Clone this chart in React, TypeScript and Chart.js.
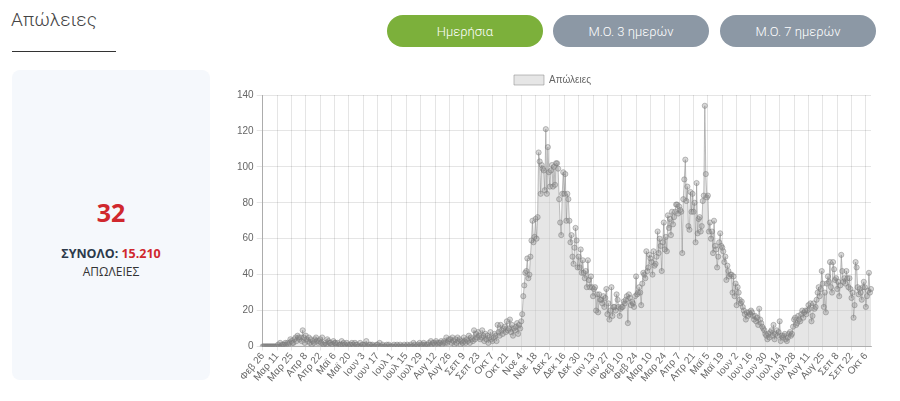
import React, { useEffect, useRef } from "react";
import { Chart, registerables } from "chart.js";

Chart.register(...registerables);

// Daily deaths, starting 26 Feb 2020
const startDate = { year: 2020, month: 1, day: 26 };
const monthNames = ["Ιαν", "Φεβ", "Μαρ", "Απρ", "Μαϊ", "Ιουν", "Ιουλ", "Αυγ", "Σεπ", "Οκτ", "Νοε", "Δεκ"];
const labelEvery = 14;

const firstWave2020 = [
  0, 0, 0, 0, 0, 0, 0, 0, 0, 0, 0, 0, 0, 0, 0,
  1, 0, 2, 0, 1, 1, 1, 2, 1, 2, 1, 2, 4, 3,
  2, 2, 4, 5, 3, 6, 5, 4, 5, 3, 9, 5, 2, 6,
  4, 3, 5, 2, 4, 1, 3, 2, 4, 5, 3, 2, 3, 4,
  2, 5, 1, 1, 2, 1, 4, 3, 2, 2, 1, 1, 3, 2,
  2, 1, 2, 0, 1, 1, 3, 1, 2, 1, 0, 2, 1, 0,
  1, 1, 2, 1, 0, 2, 1, 1, 0, 0, 2, 0, 1, 1,
  0, 1, 3, 0, 0, 1, 1, 0, 1, 0, 0, 0, 1, 1,
  0, 2, 0, 0, 1, 0, 0, 0, 1, 0, 1, 0, 0, 0,
  0, 1, 0, 0, 1, 0, 0, 1, 0, 0, 0, 1, 0, 0,
  1, 0, 0, 1, 0, 0, 2, 1, 0, 0, 1, 0, 2, 1,
  0, 1, 2, 1, 0, 1, 1, 2, 0, 3, 1, 2, 2, 1,
  3, 2, 1, 2, 2, 3, 1, 2, 3, 2, 5, 2, 3, 4,
  4, 2, 5, 3, 1, 4, 2, 5, 3, 4, 1, 3, 2, 5,
  3, 2, 4, 3, 6, 2, 5, 4, 3, 9, 4, 7, 5, 8,
  6, 4, 5, 9, 6, 3, 7, 4, 6, 2, 5, 8, 4, 3,
];

const secondWave = [
  5, 7, 6, 3, 12, 8, 6, 12, 9, 7, 10, 11, 8, 14,
  9, 10, 15, 8, 12, 6, 10, 9, 11, 13, 7, 12, 10,
  14, 18, 28, 34, 41, 42, 49, 38, 40, 50,
  59, 70, 58, 61, 71, 60, 72, 108, 103, 85,
  101, 99, 98, 87, 121, 85, 111, 97, 89, 98,
  101, 89, 100, 90, 102, 102, 99, 82, 69, 62,
  85, 97, 85, 96, 70, 85, 82, 70, 58, 62,
  50, 46, 55, 66, 59, 44, 50, 44, 54, 41,
  48, 41, 38, 42, 33, 48, 37, 33,
  39, 33, 28, 32, 33, 20, 29, 19, 29, 26,
  26, 24, 28, 22, 27, 32, 18, 24, 15, 20,
  33, 17, 22, 22, 20, 29, 26, 22, 17, 21,
  22, 22, 25, 24, 26, 28, 13, 29, 27, 23,
];

const thirdWave = [
  25, 24, 22, 28, 39, 29, 30, 33, 30, 23,
  35, 41, 40, 38, 53, 42, 44, 51, 49, 47,
  40, 53, 45, 46, 50, 64, 52, 60, 56, 42,
  58, 69, 54, 61, 53, 73, 66, 71, 62, 75,
  68, 72, 75, 79,
  79, 74, 78, 76, 75, 52, 82, 93, 104, 81,
  89, 67, 65, 86, 75, 85, 75, 80, 58, 91,
  63, 71, 72, 64, 67, 81, 84, 134, 96, 83,
  84, 64,
  69, 60, 64, 52, 70, 56, 54, 44, 50, 58,
  63, 56, 55, 53, 47, 50, 37, 45, 42, 39,
  40, 40, 30, 39, 28, 35, 23, 33, 30, 26,
  24, 25, 22, 20, 18, 15, 19, 17, 19, 18,
  20, 19, 17, 15, 17, 14, 16, 12, 21, 15,
  13, 11, 10, 9, 7, 6, 4, 7, 5, 8, 9,
];

const fourthWave = [
  6, 12, 4, 7, 9, 6, 8, 14, 3, 6,
  5, 6, 7, 4, 3, 5, 7, 8, 6, 7,
  11, 15, 16, 12, 13, 17, 15, 14, 18, 20,
  16, 19, 20, 18, 20, 23, 21, 24, 14, 17,
  24, 21, 22, 26, 30, 33, 28, 32, 42, 35,
  22, 30, 19, 35, 39, 36, 47, 33, 30, 47,
  43, 37, 38, 32, 36, 28, 34, 51, 42, 36,
  38, 35, 42, 38, 33, 38, 32, 27, 30, 16,
  23, 47, 44, 33, 29, 32, 30, 26, 33, 36,
  33, 22, 28, 31, 41, 30, 32,
];

const deaths = [...firstWave2020, ...secondWave, ...thirdWave, ...fourthWave];

const dayLabels = deaths.map((_, i) => {
  const d = new Date(Date.UTC(startDate.year, startDate.month, startDate.day + i));
  return monthNames[d.getUTCMonth()] + " " + d.getUTCDate();
});

const yTicks = { min: 0, max: 140, step: 20 };
const seriesName = "Απώλειες";
const todayValue = "32";
const totalValue = "15.210";

const chartFont = "'Liberation Sans', Arial, sans-serif";

function DeathsChart() {
  const ref = useRef<HTMLCanvasElement | null>(null);
  useEffect(() => {
    if (!ref.current) return;
    const chart = new Chart(ref.current, {
      type: "line",
      data: {
        labels: dayLabels,
        datasets: [
          {
            label: seriesName,
            data: deaths,
            fill: true,
            tension: 0,
            borderWidth: 1,
            borderColor: "rgba(140,140,140,0.55)",
            backgroundColor: "rgba(200,200,200,0.45)",
            pointRadius: 2.6,
            pointBorderWidth: 1,
            pointBackgroundColor: "rgba(140,140,140,0.35)",
            pointBorderColor: "rgba(120,120,120,0.45)",
          },
        ],
      },
      options: {
        responsive: false,
        animation: false,
        devicePixelRatio: 1,
        layout: { padding: { left: 0, right: 8, top: 0, bottom: 0 } },
        plugins: {
          legend: {
            display: true,
            position: "top",
            labels: {
              boxWidth: 30,
              boxHeight: 10,
              color: "#666",
              font: { size: 10, family: chartFont },
            },
          },
          tooltip: { enabled: false },
        },
        scales: {
          x: {
            grid: {
              color: (ctx: any) =>
                ctx.tick && ctx.tick.value % labelEvery === 0 ? "rgba(0,0,0,0.1)" : "rgba(0,0,0,0)",
              drawTicks: true,
              tickLength: 4,
            },
            border: { color: "rgba(0,0,0,0.25)" },
            ticks: {
              autoSkip: false,
              maxRotation: 50,
              minRotation: 50,
              padding: 0,
              color: "#666",
              font: { size: 10, family: chartFont },
              callback: (v: any) => (Number(v) % labelEvery === 0 ? dayLabels[Number(v)] : null),
            },
          },
          y: {
            min: yTicks.min,
            max: yTicks.max,
            grid: { color: "rgba(0,0,0,0.1)", tickLength: 6 },
            border: { color: "rgba(0,0,0,0.25)" },
            ticks: {
              stepSize: yTicks.step,
              color: "#666",
              font: { size: 10, family: chartFont },
            },
          },
        },
      },
    } as any);
    return () => chart.destroy();
  }, []);
  return <canvas ref={ref} width={645} height={319} style={{ display: "block" }} />;
}

const btnBase: React.CSSProperties = {
  position: "absolute",
  top: 15,
  height: 32,
  width: 156,
  borderRadius: 16,
  color: "#fff",
  fontFamily: "Roboto, sans-serif",
  fontWeight: 300,
  fontSize: 13,
  display: "flex",
  alignItems: "center",
  justifyContent: "center",
};

export default function App() {
  return (
    <div
      style={{
        position: "fixed",
        left: 0,
        top: 0,
        width: 900,
        height: 401,
        background: "#fff",
        overflow: "hidden",
        fontFamily: "Roboto, sans-serif",
      }}
    >
      <div style={{ position: "absolute", left: 11, top: 8, fontSize: 19, fontWeight: 300, color: "#444" }}>
        Απώλειες
      </div>
      <div style={{ position: "absolute", left: 12, top: 51, width: 104, height: 1, background: "#333" }} />

      <div style={{ ...btnBase, left: 387, background: "#7cb03b" }}>Ημερήσια</div>
      <div style={{ ...btnBase, left: 553, background: "#8c98a5" }}>Μ.Ο. 3 ημερών</div>
      <div style={{ ...btnBase, left: 720, background: "#8c98a5" }}>Μ.Ο. 7 ημερών</div>

      <div
        style={{
          position: "absolute",
          left: 12,
          top: 70,
          width: 198,
          height: 310,
          background: "#f5f8fc",
          borderRadius: 8,
          fontFamily: "'Open Sans', sans-serif",
          textAlign: "center",
        }}
      >
        <div style={{ position: "absolute", left: 0, right: 0, top: 125, fontSize: 25, fontWeight: 700, color: "#d0282e" }}>
          {todayValue}
        </div>
        <div style={{ position: "absolute", left: 0, right: 0, top: 175, fontSize: 12.5, fontWeight: 700, color: "#2c3a4b" }}>
          ΣΥΝΟΛΟ: <span style={{ color: "#d0282e" }}>{totalValue}</span>
        </div>
        <div style={{ position: "absolute", left: 0, right: 0, top: 193, fontSize: 12, fontWeight: 400, color: "#333" }}>
          ΑΠΩΛΕΙΕΣ
        </div>
      </div>

      <div style={{ position: "absolute", left: 234, top: 65 }}>
        <DeathsChart />
      </div>
    </div>
  );
}
